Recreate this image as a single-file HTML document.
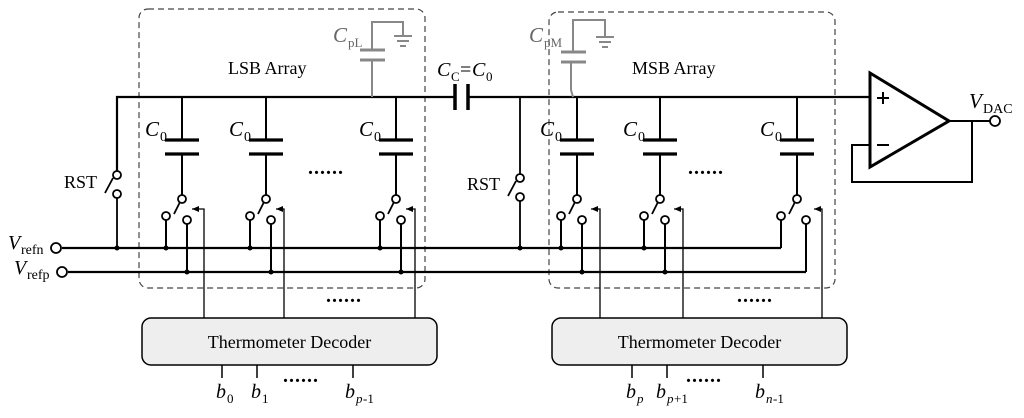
<!DOCTYPE html>
<html><head><style>
body{margin:0;background:#fff;}
svg{display:block;font-family:"Liberation Serif",serif;}
</style></head><body>
<svg width="1024" height="418" viewBox="0 0 1024 418" xmlns="http://www.w3.org/2000/svg">
<defs>
<marker id="ah" markerWidth="8" markerHeight="8" refX="7" refY="4" orient="auto" markerUnits="userSpaceOnUse">
<path d="M0,1 L7,4 L0,7 z" fill="#000"/>
</marker>
</defs>
<rect x="139" y="9" width="286" height="279" rx="9" fill="none" stroke="#444" stroke-width="1.2" stroke-dasharray="6,4"/>
<rect x="549" y="12" width="286" height="276" rx="9" fill="none" stroke="#444" stroke-width="1.2" stroke-dasharray="6,4"/>
<text x="228" y="74" font-size="18">LSB Array</text>
<text x="632" y="74" font-size="18">MSB Array</text>

<g stroke="#000" stroke-width="2.2" fill="none">
<path d="M117,175 V97 H455 M468,97 H870"/>
<path d="M455,84 V110 M468,84 V110" stroke-width="3.5"/>
<path d="M62,248 H781 M68,272 H806"/>
<path d="M117,198 V248 M105,193 L113,178" stroke-width="1.8"/>
<path d="M520,97 V175 M520,200 V248 M508,196 L516,181" stroke-width="1.8"/>
</g>
<g fill="#fff" stroke="#000" stroke-width="1.8">
<circle cx="117" cy="175" r="4"/><circle cx="117" cy="194" r="4"/>
<circle cx="520" cy="178" r="4"/><circle cx="520" cy="197" r="4"/>
<circle cx="56" cy="248" r="5"/><circle cx="62" cy="272" r="5"/>
</g>
<text x="64" y="188" font-size="18">RST</text>
<text x="467" y="190" font-size="18">RST</text>
<text x="8" y="249" font-size="20" font-style="italic">V</text><text x="21" y="254" font-size="14">refn</text>
<text x="14" y="274" font-size="20" font-style="italic">V</text><text x="27" y="279" font-size="14">refp</text>
<circle cx="117" cy="248" r="2.5"/><circle cx="520" cy="248" r="2.5"/>

<g stroke="#888" stroke-width="2" fill="none">
<path d="M372,97 V60 M372,50 V22 H403 V35"/>
<path d="M360,50 H385 M360,60 H385" stroke-width="3"/>
<path d="M394,36 H412 M397,41 H409 M400,46 H406"/>
<path d="M573,97 L571,90 V62 M573,52 V20 H605 V36"/>
<path d="M561,52 H586 M561,62 H586" stroke-width="3"/>
<path d="M596,37 H614 M599,42 H611 M602,47 H608"/>
</g>
<text x="333" y="42" font-size="21" font-style="italic" fill="#666">C</text><text x="348" y="47" font-size="13" fill="#666">pL</text>
<text x="529" y="42" font-size="21" font-style="italic" fill="#666">C</text><text x="544" y="47" font-size="13" fill="#666">pM</text>
<text x="437" y="76" font-size="20" font-style="italic">C</text><text x="451" y="81" font-size="13">C</text><text x="460" y="76" font-size="20">=</text><text x="472" y="76" font-size="20" font-style="italic">C</text><text x="486" y="81" font-size="13">0</text>

<g stroke="#000" fill="none" stroke-width="2">
<path d="M182,97 V140 M182,154 V195 M266,97 V140 M266,154 V195 M396,97 V140 M396,154 V195 M577,97 V140 M577,154 V195 M660,97 V140 M660,154 V195 M797,97 V140 M797,154 V195"/>
<path d="M165,140 H199 M165,154 H199 M249,140 H283 M249,154 H283 M379,140 H413 M379,154 H413 M560,140 H594 M560,154 H594 M643,140 H677 M643,154 H677 M780,140 H814 M780,154 H814" stroke-width="3.2"/>
<path d="M174,214 L180,202 M258,214 L264,202 M388,214 L394,202 M569,214 L575,202 M652,214 L658,202 M789,214 L795,202" stroke-width="1.8"/>
<path d="M166,220 V248 M250,220 V248 M380,220 V248 M561,220 V248 M644,220 V248 M781,220 V248"/>
<path d="M187,224 V272 M271,224 V272 M401,224 V272 M582,224 V272 M665,224 V272 M806,224 V272"/>
</g>
<g stroke="#000" fill="none" stroke-width="1.3">
<path d="M204,318 V209 H192" marker-end="url(#ah)"/>
<path d="M284,318 V209 H276" marker-end="url(#ah)"/>
<path d="M415,318 V209 H406" marker-end="url(#ah)"/>
<path d="M600,318 V209 H591" marker-end="url(#ah)"/>
<path d="M683,318 V209 H674" marker-end="url(#ah)"/>
<path d="M822,318 V209 H814" marker-end="url(#ah)"/>
</g>
<g fill="#fff" stroke="#000" stroke-width="1.8">
<circle cx="182" cy="199" r="4"/><circle cx="166" cy="216" r="4"/><circle cx="187" cy="220" r="4"/>
<circle cx="266" cy="199" r="4"/><circle cx="250" cy="216" r="4"/><circle cx="271" cy="220" r="4"/>
<circle cx="396" cy="199" r="4"/><circle cx="380" cy="216" r="4"/><circle cx="401" cy="220" r="4"/>
<circle cx="577" cy="199" r="4"/><circle cx="561" cy="216" r="4"/><circle cx="582" cy="220" r="4"/>
<circle cx="660" cy="199" r="4"/><circle cx="644" cy="216" r="4"/><circle cx="665" cy="220" r="4"/>
<circle cx="797" cy="199" r="4"/><circle cx="781" cy="216" r="4"/><circle cx="806" cy="220" r="4"/>
</g>
<g>
<circle cx="166" cy="248" r="2.5"/><circle cx="250" cy="248" r="2.5"/><circle cx="380" cy="248" r="2.5"/><circle cx="561" cy="248" r="2.5"/><circle cx="644" cy="248" r="2.5"/>
<circle cx="187" cy="272" r="2.5"/><circle cx="271" cy="272" r="2.5"/><circle cx="401" cy="272" r="2.5"/><circle cx="582" cy="272" r="2.5"/><circle cx="665" cy="272" r="2.5"/>
</g>
<g font-size="21">
<text x="145" y="136" font-style="italic">C</text><text x="160" y="141" font-size="14">0</text>
<text x="229" y="136" font-style="italic">C</text><text x="244" y="141" font-size="14">0</text>
<text x="359" y="136" font-style="italic">C</text><text x="374" y="141" font-size="14">0</text>
<text x="540" y="136" font-style="italic">C</text><text x="555" y="141" font-size="14">0</text>
<text x="623" y="136" font-style="italic">C</text><text x="638" y="141" font-size="14">0</text>
<text x="760" y="136" font-style="italic">C</text><text x="775" y="141" font-size="14">0</text>
</g>
<g font-size="20" font-weight="bold" letter-spacing="1">
<text x="308" y="174">......</text><text x="688" y="174">......</text>
<text x="326" y="302">......</text><text x="737" y="302">......</text>
<text x="283" y="382">......</text><text x="686" y="382">......</text>
</g>

<rect x="142" y="318" width="295" height="47" rx="9" fill="#eeeeee" stroke="#000" stroke-width="1.5"/>
<rect x="552" y="318" width="295" height="47" rx="9" fill="#eeeeee" stroke="#000" stroke-width="1.5"/>
<text x="289.5" y="348" font-size="18" text-anchor="middle">Thermometer Decoder</text>
<text x="699.5" y="348" font-size="18" text-anchor="middle">Thermometer Decoder</text>
<g stroke="#000" stroke-width="1.5">
<path d="M222,365 V378 M257,365 V378 M353,365 V378 M632,365 V378 M667,365 V378 M763,365 V378"/>
</g>
<g font-size="20" font-style="italic">
<text x="216" y="398">b</text><text x="227" y="403" font-size="13" font-style="normal">0</text>
<text x="251" y="398">b</text><text x="262" y="403" font-size="13" font-style="normal">1</text>
<text x="345" y="398">b</text><text x="356" y="403" font-size="13">p</text><text x="363" y="403" font-size="13" font-style="normal">-1</text>
<text x="626" y="398">b</text><text x="637" y="403" font-size="13">p</text>
<text x="656" y="398">b</text><text x="667" y="403" font-size="13">p</text><text x="674" y="403" font-size="13" font-style="normal">+1</text>
<text x="755" y="398">b</text><text x="766" y="403" font-size="13">n</text><text x="773" y="403" font-size="13" font-style="normal">-1</text>
</g>

<path d="M870,73 L949,121 L870,167 Z" fill="none" stroke="#000" stroke-width="3"/>
<g stroke="#000" stroke-width="2" fill="none">
<path d="M949,121 H990 M972,121 V182 H852 V145 H870"/>
<path d="M877,98 H889 M883,92 V104 M877,145 H889"/>
</g>
<circle cx="995" cy="121" r="5" fill="#fff" stroke="#000" stroke-width="1.8"/>
<text x="969" y="108" font-size="21" font-style="italic">V</text><text x="983" y="113" font-size="14">DAC</text>
</svg>
</body></html>
